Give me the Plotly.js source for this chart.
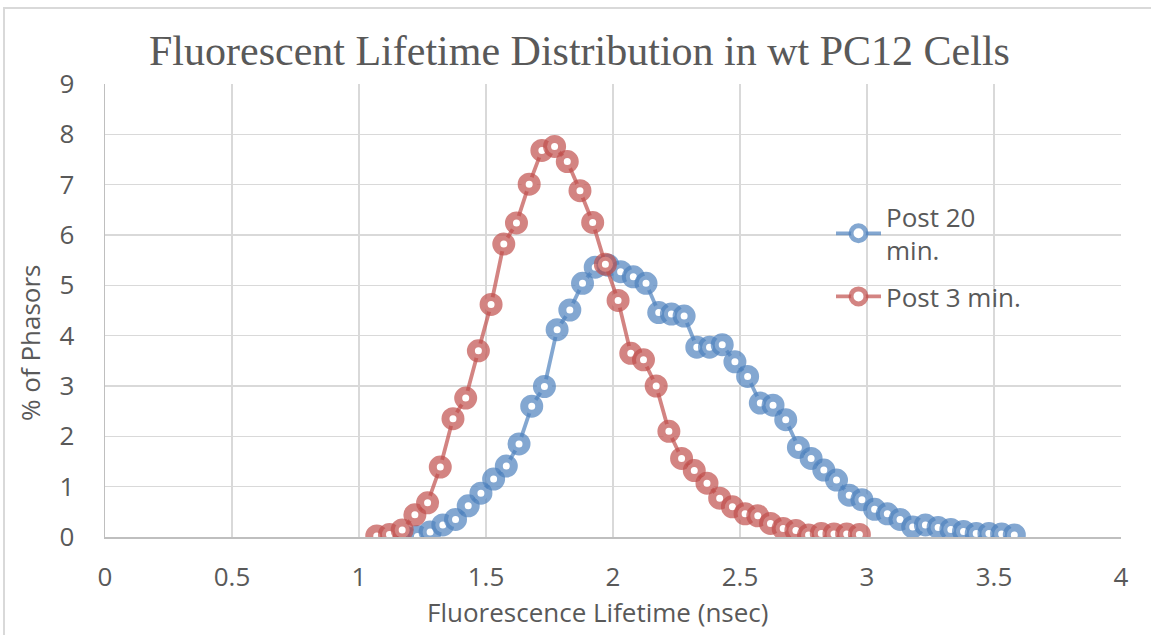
<!DOCTYPE html>
<html>
<head>
<meta charset="utf-8">
<script src="https://cdn.plot.ly/plotly-3.0.1.min.js"></script>
<style>html,body{margin:0;padding:0;background:#fff;}#chart{width:1151px;height:635px;}</style>
</head>
<body>
<div id="chart"></div>
<script>
// Post 20 min. series
const post20X = [1.18,1.23,1.28,1.33,1.38,1.43,1.48,1.53,1.58,1.63,1.68,1.73,1.78,1.83,1.88,1.93,1.98,2.03,2.08,2.13,2.18,2.23,2.28,2.33,2.38,2.43,2.48,2.53,2.58,2.63,2.68,2.73,2.78,2.83,2.88,2.93,2.98,3.03,3.08,3.13,3.18,3.23,3.28,3.33,3.38,3.43,3.48,3.53,3.58];
const post20Y = [0.0,0.01,0.10,0.24,0.35,0.62,0.87,1.15,1.41,1.85,2.60,2.99,4.12,4.51,5.04,5.36,5.40,5.27,5.17,5.04,4.46,4.43,4.39,3.77,3.77,3.82,3.48,3.19,2.66,2.62,2.33,1.78,1.56,1.33,1.13,0.83,0.74,0.55,0.46,0.35,0.20,0.24,0.19,0.15,0.11,0.07,0.07,0.06,0.04];
// Post 3 min. series
const post3X = [1.07,1.12,1.17,1.22,1.27,1.32,1.37,1.42,1.47,1.52,1.57,1.62,1.67,1.72,1.77,1.82,1.87,1.92,1.97,2.02,2.07,2.12,2.17,2.22,2.27,2.32,2.37,2.42,2.47,2.52,2.57,2.62,2.67,2.72,2.77,2.82,2.87,2.92,2.97];
const post3Y = [0.02,0.05,0.14,0.44,0.68,1.39,2.35,2.76,3.70,4.62,5.82,6.24,7.01,7.68,7.76,7.46,6.88,6.25,5.42,4.70,3.65,3.52,3.00,2.10,1.56,1.32,1.07,0.77,0.60,0.46,0.42,0.27,0.17,0.13,0.04,0.07,0.06,0.06,0.05];
const seriesNames = ["Post 20<br>min.", "Post 3 min."];
const xTickVals = [0,0.5,1,1.5,2,2.5,3,3.5,4];
const xTickText = ["0","0.5","1","1.5","2","2.5","3","3.5","4"];
const yTickVals = [0,1,2,3,4,5,6,7,8,9];

const BLUE = "rgba(79,129,189,0.7)";
const RED = "rgba(192,80,77,0.7)";
const TXT = "#595959";
const SANS = "Open Sans, sans-serif";

function trace(x, y, name, col, legendId) {
  return {
    x: x, y: y, name: name, type: "scatter", mode: "lines+markers", legend: legendId,
    line: {color: col, width: 3.8},
    marker: {symbol: "circle", size: 15, color: "#ffffff", line: {color: col, width: 8}}
  };
}

const data = [
  trace(post20X, post20Y, seriesNames[0], BLUE, "legend"),
  trace(post3X, post3Y, seriesNames[1], RED, "legend2")
];

const axisCommon = {
  showgrid: true, gridcolor: "#D9D9D9", gridwidth: 1.3,
  showline: true, linecolor: "#BFBFBF", linewidth: 1.5,
  zeroline: false, ticks: "", automargin: false,
  tickfont: {family: SANS, size: 26, color: TXT}
};

const legendCommon = {
  xanchor: "left", yanchor: "top",
  bgcolor: "rgba(0,0,0,0)", borderwidth: 0,
  font: {family: SANS, size: 26, color: TXT},
  tracegroupgap: 0, itemwidth: 45
};

const layout = {
  width: 1151, height: 635,
  paper_bgcolor: "#ffffff", plot_bgcolor: "#ffffff",
  margin: {l: 105, r: 30, t: 84, b: 98},
  showlegend: true,
  legend: Object.assign({}, legendCommon, {x: (831 - 105) / 1016, y: (537 - 193) / 453}),
  legend2: Object.assign({}, legendCommon, {x: (831 - 105) / 1016, y: (537 - 273) / 453}),
  xaxis: Object.assign({}, axisCommon, {
    range: [0, 4], tickvals: xTickVals, ticktext: xTickText,
    ticklabelstandoff: 16
  }),
  yaxis: Object.assign({}, axisCommon, {
    range: [0, 9], tickvals: yTickVals,
    ticklabelstandoff: 24
  }),
  annotations: [
    {text: "Fluorescent Lifetime Distribution in wt PC12 Cells", xref: "paper", yref: "paper",
     x: (579 - 105) / 1016, y: 1 + (84 - 51) / 453, xanchor: "center", yanchor: "middle", showarrow: false,
     font: {family: "Liberation Serif, serif", size: 42, color: TXT}},
    {text: "Fluorescence Lifetime (nsec)", xref: "paper", yref: "paper",
     x: (597 - 105) / 1016, y: -(612 - 537) / 453, xanchor: "center", yanchor: "middle", showarrow: false,
     font: {family: SANS, size: 26, color: TXT}},
    {text: "% of Phasors", xref: "paper", yref: "paper", textangle: -90,
     x: (30 - 105) / 1016, y: (537 - 343) / 453, xanchor: "center", yanchor: "middle", showarrow: false,
     font: {family: SANS, size: 26, color: TXT}}
  ],
  shapes: [
    {type: "rect", xref: "paper", yref: "paper", layer: "below",
     x0: (4 - 105) / 1016, x1: (1160 - 105) / 1016,
     y0: (537 - 645) / 453, y1: (537 - 8) / 453,
     line: {color: "#D9D9D9", width: 2}, fillcolor: "rgba(0,0,0,0)"}
  ]
};

Plotly.newPlot("chart", data, layout, {displayModeBar: false, staticPlot: true});
</script>
</body>
</html>
